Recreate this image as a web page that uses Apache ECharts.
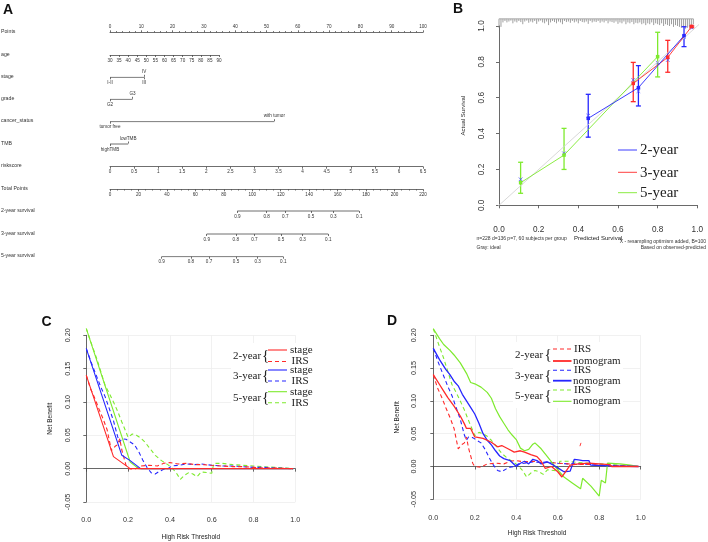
<!DOCTYPE html>
<html><head><meta charset="utf-8">
<script src="https://cdn.jsdelivr.net/npm/echarts@6/dist/echarts.min.js"></script>
<style>html,body{margin:0;padding:0;background:#fff}#c{width:708px;height:542px}</style>
</head><body><div id="c"></div>
<script>
// ================= DATA =================
// Panel A: nomogram
const rowNames = ['Points','age','stage','grade','cancer_status','TMB','riskscore','Total Points','2-year survival','3-year survival','5-year survival'];
const pointsRange = [0, 100], pointsStep = 10;
const ageRange = [30, 90], ageStep = 5;
const riskRange = [0, 6.5], riskStep = 0.5;
const totalRange = [0, 220], totalStep = 20;
const stageLevels = ['I-II','III','IV'];            const stagePoints = [0, 10.9, 10.9];  const stageSide = ['below','below','above'];
const gradeLevels = ['G2','G3'];                    const gradePoints = [0, 7.2];          const gradeSide = ['below','above'];
const cancerLevels = ['tumor free','with tumor'];   const cancerPoints = [0, 52.5];        const cancerSide = ['below','above'];
const tmbLevels = ['highTMB','lowTMB'];             const tmbPoints = [0, 5.8];            const tmbSide = ['below','above'];
const survLabels = ['0.9','0.8','0.7','0.5','0.3','0.1'];
const surv2Total = [89.5, 110.1, 123.2, 141.3, 157.0, 175.2];
const surv3Total = [68.0, 88.4, 101.5, 120.2, 135.4, 153.4];
const surv5Total = [36.3, 56.9, 69.6, 88.6, 103.8, 121.8];

// Panel B: calibration
const cal2Pred = [0.45, 0.703, 0.933], cal2Obs = [0.485, 0.656, 0.946], cal2Lo = [0.38, 0.554, 0.885], cal2Hi = [0.619, 0.779, 0.996], cal2Corr = [0.50, 0.637, 0.94];
const cal3Pred = [0.677, 0.851, 0.972], cal3Obs = [0.68, 0.825, 0.998], cal3Lo = [0.578, 0.742, 0.99], cal3Hi = [0.797, 0.92, 1.0], cal3Corr = [0.699, 0.81, 0.99];
const cal5Pred = [0.109, 0.328, 0.80], cal5Obs = [0.126, 0.28, 0.829], cal5Lo = [0.067, 0.20, 0.716], cal5Hi = [0.24, 0.429, 0.965], cal5Corr = [0.145, 0.29, 0.795];
const rugPos = [0.00,0.01,0.02,0.03,0.04,0.05,0.06,0.07,0.08,0.09,0.10,0.11,0.12,0.13,0.14,0.15,0.16,0.17,0.18,0.19,0.20,0.21,0.22,0.23,0.24,0.25,0.26,0.27,0.28,0.29,0.30,0.31,0.32,0.33,0.34,0.35,0.36,0.37,0.38,0.39,0.40,0.41,0.42,0.43,0.44,0.45,0.46,0.47,0.48,0.49,0.50,0.51,0.52,0.53,0.54,0.55,0.56,0.57,0.58,0.59,0.60,0.61,0.62,0.63,0.64,0.65,0.66,0.67,0.68,0.69,0.70,0.71,0.72,0.73,0.74,0.75,0.76,0.77,0.78,0.79,0.80,0.81,0.82,0.83,0.84,0.85,0.86,0.87,0.88,0.89,0.90,0.91,0.92,0.93,0.94,0.95,0.96,0.97,0.98];
const rugLen = [0.05,0.045,0.02,0.012,0.02,0.015,0.01,0.025,0.015,0.02,0.012,0.018,0.03,0.015,0.01,0.022,0.015,0.02,0.012,0.028,0.015,0.01,0.02,0.025,0.015,0.035,0.02,0.012,0.018,0.025,0.015,0.02,0.03,0.012,0.018,0.015,0.022,0.012,0.02,0.015,0.025,0.012,0.018,0.02,0.015,0.028,0.012,0.02,0.015,0.018,0.012,0.022,0.015,0.02,0.012,0.025,0.015,0.018,0.022,0.015,0.028,0.02,0.025,0.015,0.03,0.02,0.025,0.018,0.03,0.022,0.025,0.02,0.03,0.025,0.035,0.025,0.03,0.02,0.035,0.025,0.03,0.035,0.025,0.04,0.03,0.035,0.04,0.03,0.045,0.035,0.04,0.045,0.05,0.04,0.055,0.05,0.045,0.04,0.03];

// Panels C / D: decision curves [threshold, net benefit]
const stage2 = [[0,0.14],[0.13,0.018],[0.21,0.0],[0.99,0]];
const stage3 = [[0,0.18],[0.17,0.02],[0.21,0.012],[0.26,0.0],[0.99,0]];
const stage5 = [[0,0.21],[0.21,0.01],[0.25,0.0],[0.99,0]];
const irs2 = [[0,0.14],[0.02,0.12],[0.04,0.106],[0.06,0.09],[0.08,0.075],[0.1,0.058],[0.12,0.027],[0.14,0.034],[0.15,0.036],[0.16,0.045],[0.17,0.028],[0.19,0.005],[0.2,0.0],[0.23,-0.001],[0.26,0.004],[0.3,0.005],[0.34,0.004],[0.37,0.008],[0.4,0.009],[0.44,0.007],[0.48,0.008],[0.52,0.006],[0.56,0.006],[0.6,0.005],[0.65,0.004],[0.7,0.003],[0.75,0.003],[0.8,0.002],[0.85,0.001],[0.9,0.001],[0.99,0]];
const irs2Blip = [[0.707,0.031],[0.712,0.036]];
const irs3 = [[0,0.18],[0.025,0.158],[0.05,0.138],[0.07,0.122],[0.09,0.108],[0.11,0.09],[0.13,0.072],[0.14,0.06],[0.15,0.048],[0.16,0.04],[0.17,0.045],[0.19,0.044],[0.21,0.04],[0.23,0.036],[0.25,0.026],[0.27,0.013],[0.29,0.002],[0.31,-0.006],[0.33,-0.008],[0.35,-0.004],[0.37,-0.001],[0.39,0.0],[0.41,0.004],[0.44,0.005],[0.48,0.007],[0.52,0.006],[0.55,0.007],[0.6,0.005],[0.65,0.004],[0.7,0.004],[0.75,0.003],[0.8,0.002],[0.85,0.002],[0.9,0.001],[0.99,0]];
const irs5 = [[0,0.21],[0.025,0.187],[0.05,0.165],[0.07,0.145],[0.09,0.125],[0.11,0.113],[0.13,0.1],[0.15,0.086],[0.17,0.07],[0.19,0.055],[0.2,0.047],[0.22,0.052],[0.24,0.05],[0.26,0.046],[0.28,0.04],[0.3,0.032],[0.33,0.02],[0.36,0.012],[0.39,0.006],[0.41,0.001],[0.43,-0.006],[0.45,-0.016],[0.47,-0.01],[0.49,-0.006],[0.51,-0.008],[0.53,-0.012],[0.55,-0.005],[0.58,-0.006],[0.6,-0.007],[0.61,0.008],[0.65,0.008],[0.7,0.006],[0.75,0.005],[0.8,0.004],[0.85,0.003],[0.9,0.002],[0.99,0]];
const nomo2 = [[0,0.14],[0.03,0.125],[0.05,0.115],[0.07,0.105],[0.1,0.092],[0.13,0.077],[0.15,0.065],[0.16,0.058],[0.18,0.058],[0.2,0.045],[0.24,0.043],[0.28,0.037],[0.31,0.03],[0.33,0.032],[0.36,0.027],[0.39,0.022],[0.42,0.024],[0.44,0.022],[0.47,0.018],[0.5,0.015],[0.52,0.008],[0.54,-0.003],[0.57,0.0],[0.6,-0.008],[0.62,-0.016],[0.64,-0.007],[0.66,0.002],[0.7,0.004],[0.75,0.005],[0.8,0.004],[0.85,0.003],[0.86,0.0],[0.99,0]];
const nomo3 = [[0,0.18],[0.03,0.163],[0.06,0.148],[0.08,0.14],[0.1,0.13],[0.12,0.123],[0.14,0.11],[0.16,0.1],[0.18,0.09],[0.2,0.08],[0.22,0.066],[0.24,0.05],[0.26,0.04],[0.28,0.033],[0.3,0.024],[0.32,0.016],[0.34,0.012],[0.37,0.009],[0.4,0.0],[0.42,0.005],[0.44,0.008],[0.46,0.004],[0.48,0.011],[0.5,0.009],[0.52,0.004],[0.55,0.007],[0.58,0.002],[0.61,-0.004],[0.63,-0.008],[0.66,-0.007],[0.68,0.011],[0.7,0.01],[0.72,0.009],[0.75,0.009],[0.76,0.002],[0.85,0.001],[0.99,0]];
const nomo5 = [[0,0.21],[0.03,0.195],[0.05,0.186],[0.08,0.177],[0.1,0.17],[0.13,0.158],[0.16,0.142],[0.18,0.128],[0.2,0.126],[0.23,0.121],[0.26,0.113],[0.28,0.104],[0.3,0.088],[0.32,0.076],[0.34,0.066],[0.36,0.056],[0.38,0.048],[0.4,0.041],[0.42,0.028],[0.44,0.024],[0.46,0.026],[0.48,0.034],[0.49,0.036],[0.52,0.027],[0.55,0.015],[0.58,0.003],[0.6,-0.005],[0.63,-0.016],[0.67,-0.025],[0.71,-0.034],[0.72,-0.018],[0.76,-0.03],[0.8,-0.045],[0.81,-0.021],[0.83,-0.025],[0.84,0.005],[0.9,0.004],[0.95,0.002],[0.99,0]];

// ================= LAYOUT / STYLE =================
const SANS = 'Liberation Sans', SERIF = 'Liberation Serif';
const RED = '#ff2a2a', BLUE = '#2626ff', GREEN = '#7eea2e';
const A = {left:110, width:313, ageWidth:109, rowY:[32.3,55,77.3,99.3,121.7,144,166.7,189.3,211,234,256.7]};

const grids = [], xAxes = [], yAxes = [], series = [], graphics = [];

// ---------- Panel A ----------
const nomoLine = {color:'#4a4a4a', width:0.8};
const tickTxt = {fontFamily:SANS, fontSize:4.6, color:'#333'};
function nomoGrid(r, left, width){
  grids.push({left:left, width:width, top:A.rowY[r]-0.5, height:1});
  const gi = grids.length-1;
  yAxes.push({gridIndex:gi, type:'value', min:-1, max:1, show:false});
  return gi;
}
function linearRow(r, left, width, range, step, pos, minorSplit){
  const gi = nomoGrid(r, left, width);
  xAxes.push({gridIndex:gi, type:'value', position:pos, min:range[0], max:range[1], interval:step,
    axisLine:{show:true, lineStyle:nomoLine},
    axisTick:{show:true, length:2, lineStyle:nomoLine},
    minorTick: minorSplit ? {show:true, splitNumber:minorSplit, length:1.2, lineStyle:nomoLine} : {show:false},
    axisLabel:{...tickTxt, margin:2.5, showMinLabel:true, showMaxLabel:true},
    splitLine:{show:false}, minorSplitLine:{show:false}});
}
function pointRow(r, range, pts, labels, sides){
  const gi = nomoGrid(r, A.left, A.width);
  const xi0 = xAxes.length;
  const below = [], above = [];
  pts.forEach((p,i)=> (sides[i]==='above' ? above : below).push([p, labels[i]]));
  const mk = (pos, list) => ({gridIndex:gi, type:'value', position:pos, min:range[0], max:range[1],
    axisLine:{show:false},
    axisTick:{show:true, length:2, customValues:list.map(d=>d[0]), lineStyle:nomoLine},
    axisLabel:{...tickTxt, margin:2.5, customValues:list.map(d=>d[0]),
      formatter:v=>{const f=list.find(d=>Math.abs(d[0]-v)<1e-6); return f?f[1]:'';}},
    splitLine:{show:false}});
  xAxes.push(mk('bottom', below));
  if (above.length) xAxes.push(mk('top', above));
  series.push({type:'line', xAxisIndex:xi0, yAxisIndex:gi, data:[[Math.min(...pts),0],[Math.max(...pts),0]],
    symbol:'none', lineStyle:nomoLine, silent:true, animation:false});
}
linearRow(0, A.left, A.width, pointsRange, pointsStep, 'top', 5);
linearRow(1, A.left, A.ageWidth, ageRange, ageStep, 'bottom');
pointRow(2, pointsRange, stagePoints, stageLevels, stageSide);
pointRow(3, pointsRange, gradePoints, gradeLevels, gradeSide);
pointRow(4, pointsRange, cancerPoints, cancerLevels, cancerSide);
pointRow(5, pointsRange, tmbPoints, tmbLevels, tmbSide);
linearRow(6, A.left, A.width, riskRange, riskStep, 'bottom');
linearRow(7, A.left, A.width, totalRange, totalStep, 'bottom', 4);
const allBelow = survLabels.map(()=> 'below');
pointRow(8, totalRange, surv2Total, survLabels, allBelow);
pointRow(9, totalRange, surv3Total, survLabels, allBelow);
pointRow(10, totalRange, surv5Total, survLabels, allBelow);
rowNames.forEach((n,i)=> graphics.push({type:'text', z:20, style:{x:1, y:A.rowY[i]-0.8, text:n, font:'5.2px "Liberation Sans"', fill:'#333', textVerticalAlign:'middle', verticalAlign:'middle'}}));

// ---------- generic R-style axes ----------
function rAxes(gi, o){
  const axisLine = {show:true, lineStyle:{color:'#444', width:0.8}};
  const axisTick = {show:true, length:3, lineStyle:{color:'#444', width:0.8}};
  const xi = xAxes.length;
  xAxes.push({gridIndex:gi, type:'value', min:o.xmin, max:o.xmax, interval:o.xstep, offset:o.xoff,
    axisLine, axisTick,
    axisLabel:{fontFamily:SANS, fontSize:o.tick, color:'#333', margin:o.xmargin, formatter:v=>v.toFixed(o.xdig)},
    splitLine:{show:!!o.grid, lineStyle:{color:'#ededed', width:0.8}},
    name:o.xname, nameLocation:'middle', nameGap:o.xnameGap,
    nameTextStyle:{fontFamily:SANS, fontSize:o.title, color:'#222'}});
  yAxes.push({gridIndex:gi, type:'value', min:o.ymin, max:o.ymax, interval:o.ystep, offset:o.yoff,
    axisLine, axisTick,
    axisLabel:{fontFamily:SANS, fontSize:o.tick, color:'#333', margin:o.ymargin, rotate:90, formatter:v=>v.toFixed(o.ydig)},
    splitLine:{show:!!o.grid, lineStyle:{color:'#ededed', width:0.8}},
    name:o.yname, nameLocation:'middle', nameGap:o.ynameGap, nameRotate:90,
    nameTextStyle:{fontFamily:SANS, fontSize:o.title, color:'#222'}});
  return xi;
}

// ---------- Panel B ----------
grids.push({left:499, top:26, width:198.3, height:179.3});
const gB = grids.length-1;
const xB = rAxes(gB, {xmin:0,xmax:1,xstep:0.2,xoff:11,xdig:1,ymin:0,ymax:1,ystep:0.2,yoff:8.3,ydig:1,
  tick:8.2, title:6, xmargin:9, ymargin:4.5, xname:'Predicted Survival', xnameGap:19.5, yname:'Actual Survival', ynameGap:24});
const onB = {xAxisIndex:xB, yAxisIndex:gB, animation:false, silent:true};
series.push({...onB, type:'line', data:[[-0.04,-0.04],[1.04,1.04]], symbol:'none', clip:false, lineStyle:{color:'#d4d4d4', width:0.9}});
// spike histogram of predictions, hanging from the top of the plot region (y = 1.04)
const RUG_TOP = 1.04;
series.push({...onB, type:'custom', clip:false, data:rugPos.map((x,i)=>[x, rugLen[i]]),
  renderItem:(p,api)=>{const a=api.coord([api.value(0),RUG_TOP]); const b=api.coord([api.value(0),RUG_TOP-api.value(1)]);
    const children=[{type:'line', shape:{x1:a[0],y1:a[1],x2:b[0],y2:b[1]}, style:{stroke:'#858585', lineWidth:0.8}}];
    if (p.dataIndex < rugPos.length-1){const n=api.coord([rugPos[p.dataIndex+1],RUG_TOP]);
      children.push({type:'line', shape:{x1:a[0],y1:a[1],x2:n[0],y2:n[1]}, style:{stroke:'#9a9a9a', lineWidth:0.8}});}
    return {type:'group', children};}});
function calSeries(pred, obs, lo, hi, corr, color){
  series.push({...onB, type:'line', data:pred.map((x,i)=>[x,obs[i]]), symbol:'rect', symbolSize:3.5, clip:false,
    itemStyle:{color:color}, lineStyle:{color:color, width:0.9}});
  series.push({...onB, type:'custom', clip:false, data:pred.map((x,i)=>[x,lo[i],hi[i]]),
    renderItem:(p,api)=>{const a=api.coord([api.value(0),api.value(1)]); const b=api.coord([api.value(0),api.value(2)]);
      const s={stroke:color, lineWidth:1.3};
      return {type:'group', children:[
        {type:'line', shape:{x1:a[0],y1:a[1],x2:b[0],y2:b[1]}, style:s},
        {type:'line', shape:{x1:a[0]-2.5,y1:a[1],x2:a[0]+2.5,y2:a[1]}, style:s},
        {type:'line', shape:{x1:b[0]-2.5,y1:b[1],x2:b[0]+2.5,y2:b[1]}, style:s}]};}});
  series.push({...onB, type:'custom', clip:false, data:pred.map((x,i)=>[x,corr[i]]),
    renderItem:(p,api)=>{const c=api.coord([api.value(0),api.value(1)]); const s={stroke:'#5050ff', lineWidth:0.8}; const d=1.8;
      return {type:'group', children:[
        {type:'line', shape:{x1:c[0]-d,y1:c[1]-d,x2:c[0]+d,y2:c[1]+d}, style:s},
        {type:'line', shape:{x1:c[0]-d,y1:c[1]+d,x2:c[0]+d,y2:c[1]-d}, style:s}]};}});
}
calSeries(cal5Pred, cal5Obs, cal5Lo, cal5Hi, cal5Corr, GREEN);
calSeries(cal3Pred, cal3Obs, cal3Lo, cal3Hi, cal3Corr, RED);
calSeries(cal2Pred, cal2Obs, cal2Lo, cal2Hi, cal2Corr, BLUE);

// ---------- Panels C & D ----------
const dcaOpt = {xmin:0,xmax:1,xstep:0.2,xdig:1,ymin:-0.05,ymax:0.2,ystep:0.05,ydig:2,tick:7.2,title:6.5,grid:true,
  xname:'High Risk Threshold', yname:'Net Benefit'};
grids.push({left:86.3, top:335.3, width:209, height:166.7});
const gC = grids.length-1;
const xC = rAxes(gC, {...dcaOpt, xoff:9, yoff:8.3, xmargin:6, ymargin:6, xnameGap:22.5, ynameGap:24.5});
grids.push({left:433.3, top:335.3, width:207.4, height:164});
const gD = grids.length-1;
const xD = rAxes(gD, {...dcaOpt, xoff:9.7, yoff:8.6, xmargin:6, ymargin:7, xnameGap:21, ynameGap:24});
function curve(xi, gi, data, color, dashed, w){
  series.push({type:'line', xAxisIndex:xi, yAxisIndex:gi, data:data, symbol:'none', clip:false, animation:false, silent:true,
    lineStyle:{color:color, width:w||1.1, type: dashed ? [4,3] : 'solid'}});
}
curve(xC,gC,irs5,GREEN,true); curve(xC,gC,irs3,BLUE,true); curve(xC,gC,irs2,RED,true);
curve(xC,gC,stage5,GREEN,false); curve(xC,gC,stage3,BLUE,false); curve(xC,gC,stage2,RED,false);
curve(xD,gD,irs5,GREEN,true); curve(xD,gD,irs3,BLUE,true); curve(xD,gD,irs2,RED,true); curve(xD,gD,irs2Blip,RED,false,0.9);
curve(xD,gD,nomo5,GREEN,false,1.2); curve(xD,gD,nomo3,BLUE,false,1.3); curve(xD,gD,nomo2,RED,false,1.3);

// ---------- panel letters, legends, notes ----------
function txt(x,y,t,font,fill,align){graphics.push({type:'text', z:20, style:{x:x,y:y,text:t,font:font,fill:fill||'#111',
  textAlign:align||'left', align:align||'left', textVerticalAlign:'middle', verticalAlign:'middle'}});}
function seg(x1,y1,x2,y2,color,w,dash){graphics.push({type:'line', z:20, shape:{x1,y1,x2,y2}, style:{stroke:color, lineWidth:w||1.1, lineDash:dash||null}});}
function box(x,y,w,h){graphics.push({type:'rect', z:15, shape:{x,y,width:w,height:h}, style:{fill:'#fff'}});}
txt(3,10,'A','bold 14px "Liberation Sans"');
txt(453,9,'B','bold 14px "Liberation Sans"');
txt(41.5,321.7,'C','bold 14px "Liberation Sans"');
txt(387,321,'D','bold 14px "Liberation Sans"');
// B legend
[['2-year',BLUE,150],['3-year',RED,172.3],['5-year',GREEN,192.7]].forEach(([t,c,y])=>{seg(618,y,637,y,c,0.9); txt(640,y+0.5,t,'15px "Liberation Serif"','#222');});
// B notes
txt(476.5,239,'n=228 d=136 p=7, 60 subjects per group','5px "Liberation Sans"','#333');
txt(476.5,247.5,'Gray: ideal','5px "Liberation Sans"','#333');
txt(706,241.5,'X - resampling optimism added, B=100','5px "Liberation Sans"','#333','right');
txt(706,248,'Based on observed-predicted','5px "Liberation Sans"','#333','right');
// C legend
const LF = '11px "Liberation Serif"';
box(231, 343, 83, 66);
[['2-year',RED,356,350,361.5],['3-year',BLUE,376,370,381],['5-year',GREEN,397.7,391.7,402.7]].forEach(([t,c,y,y1,y2])=>{
  txt(233,y,t,LF,'#222'); txt(262,y,'{','15px "Liberation Serif"','#222');
  seg(268,y1,287,y1,c,1.1); seg(268,y2,287,y2,c,1.1,[4,3]);
  txt(290,y1,'stage',LF,'#222'); txt(291.5,y2,'IRS',LF,'#222');});
// D legend
box(513, 342, 110, 66);
[['2-year',RED,355,349,361,1.8],['3-year',BLUE,376,370.3,380.7,1.8],['5-year',GREEN,395.7,390,401.3,1.1]].forEach(([t,c,y,y1,y2,w])=>{
  txt(515,y,t,LF,'#222'); txt(544.5,y,'{','15px "Liberation Serif"','#222');
  seg(553,y1,571.5,y1,c,1.1,[4,3]); seg(553,y2,571.5,y2,c,w);
  txt(574,y1,'IRS',LF,'#222'); txt(573,y2,'nomogram',LF,'#222');});

const chart = echarts.init(document.getElementById('c'), null, {renderer:'canvas', width:708, height:542});
chart.setOption({animation:false, backgroundColor:'#fff', grid:grids, xAxis:xAxes, yAxis:yAxes, series:series, graphic:{elements:graphics}});
</script></body></html>
